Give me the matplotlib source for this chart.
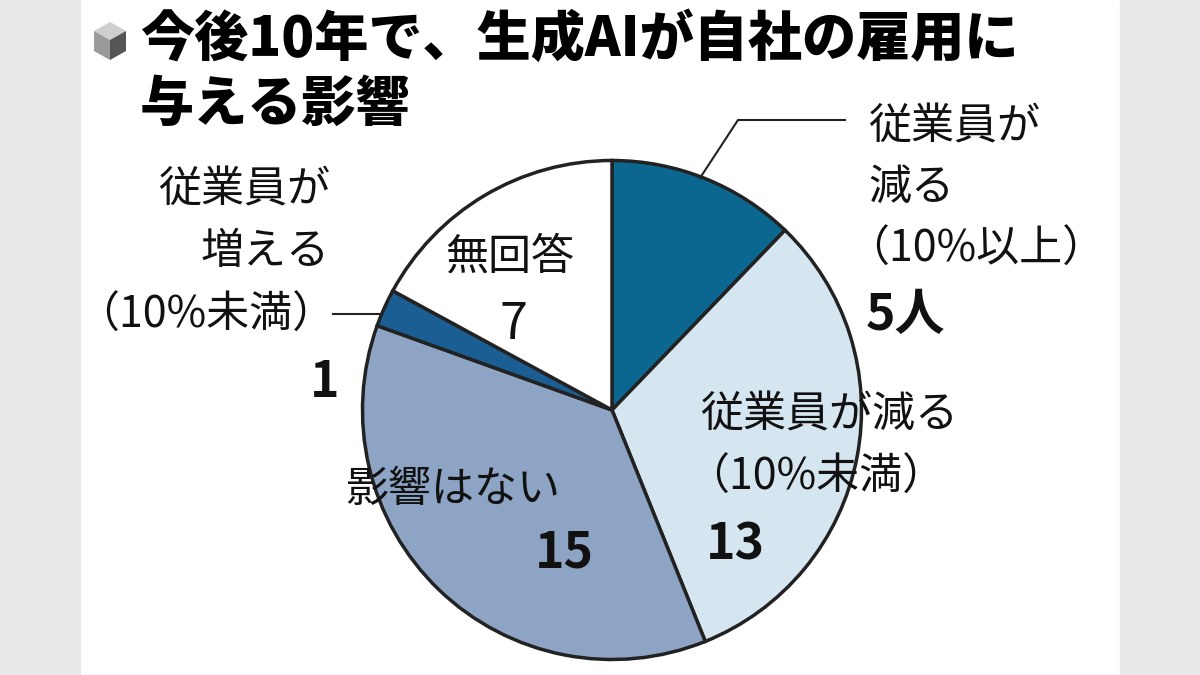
import matplotlib
matplotlib.use("Agg")
import matplotlib.pyplot as plt
from matplotlib.patches import Polygon, Rectangle
from matplotlib.lines import Line2D

plt.rcParams['font.family'] = ['Noto Sans CJK JP', 'DejaVu Sans']

# data (clockwise from top)
labels = ['従業員が減る(10%以上)', '従業員が減る(10%未満)', '影響はない', '従業員が増える(10%未満)', '無回答']
values = [5, 13, 15, 1, 7]
colors = ['#0b6790', '#d6e6f1', '#8ea4c4', '#1b5e93', '#ffffff']

W, H = 1200, 675
fig = plt.figure(figsize=(12, 6.75), dpi=100)
fig.patch.set_facecolor('white')

def fx(x):
    return x / W

def fy(y):
    return 1 - y / H

# grey side bands
fig.patches.append(Rectangle((0, 0), fx(80), 1, transform=fig.transFigure, color='#e9e9e9', zorder=0))
fig.patches.append(Rectangle((fx(1120), 0), 1, 1, transform=fig.transFigure, color='#e9e9e9', zorder=0))

# pie
cx, cy, r = 612, 410, 252
ax = fig.add_axes([fx(cx - r), fy(cy + r), 2 * r / W, 2 * r / H])
ax.pie(values, colors=colors, startangle=90, counterclock=False,
       wedgeprops=dict(edgecolor='#222222', linewidth=2.5))
ax.set_xlim(-1.01, 1.01)
ax.set_ylim(-1.01, 1.01)
ax.set_aspect('equal')
ax.axis('off')

# title with cube icon
top = [(110, 22), (126, 31), (110, 40), (94, 31)]
left = [(94, 31), (110, 40), (110, 60), (94, 51)]
right = [(110, 40), (126, 31), (126, 51), (110, 60)]
for pts, c in [(top, '#cfcfcf'), (left, '#9a9a9a'), (right, '#555555')]:
    fig.patches.append(Polygon([(fx(a), fy(b)) for a, b in pts], closed=True,
                               transform=fig.transFigure, facecolor=c, edgecolor='none'))
fig.text(fx(140), fy(40), '今後10年で、生成AIが自社の雇用に', fontsize=39, fontweight='black', va='center', ha='left')
fig.text(fx(140), fy(105), '与える影響', fontsize=39, fontweight='black', va='center', ha='left')

lab = dict(fontsize=31, ha='left', va='center', color='#111111')
num = dict(fontsize=36, ha='left', va='center', fontweight='bold', color='#111111')

fig.text(fx(868), fy(127), '従業員が', **lab)
fig.text(fx(868), fy(188), '減る', **lab)
fig.text(fx(846), fy(250), '（10%以上）', **lab)
fig.text(fx(866), fy(315), '5人', **num)

fig.text(fx(700), fy(415), '従業員が減る', **lab)
fig.text(fx(686), fy(478), '（10%未満）', **lab)
fig.text(fx(706), fy(545), str(values[1]), **num)

fig.text(fx(345), fy(490), '影響はない', **lab)
fig.text(fx(535), fy(553), str(values[2]), **num)

fig.text(fx(445), fy(258), '無回答', **lab)
fig.text(fx(500), fy(325), str(values[4]), fontsize=36, ha='left', va='center', color='#111111')

labr = dict(lab, ha='right')
fig.text(fx(330), fy(190), '従業員が', **labr)
fig.text(fx(330), fy(252), '増える', **labr)
fig.text(fx(335), fy(316), '（10%未満）', **labr)
fig.text(fx(310), fy(383), str(values[3]), **num)

# leader lines
for xs, ys in [([845, 738, 700], [120, 120, 178]), ([333, 380], [314, 314])]:
    fig.lines.append(Line2D([fx(x) for x in xs], [fy(y) for y in ys],
                            transform=fig.transFigure, color='#222222', linewidth=1.5))

fig.savefig('out.png', dpi=100)
